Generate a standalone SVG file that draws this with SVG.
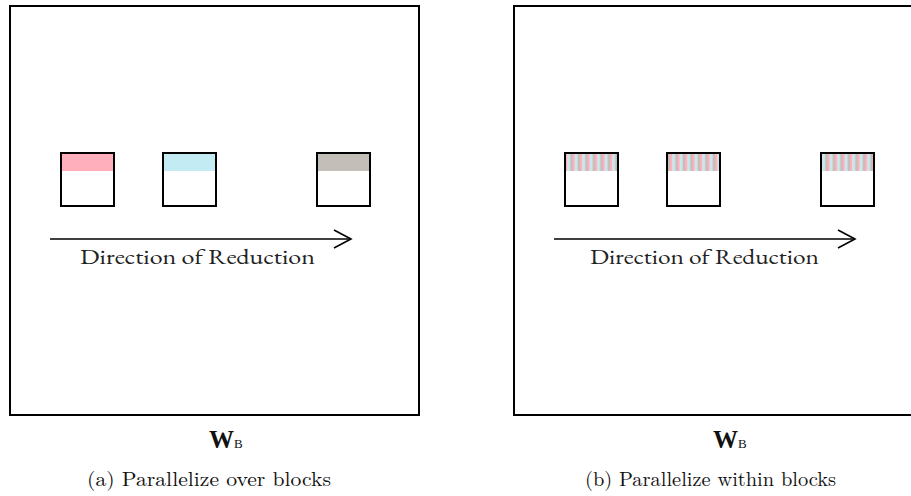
<svg xmlns="http://www.w3.org/2000/svg" width="911" height="496" viewBox="0 0 911 496">
<style>
.frame{fill:none;stroke:#000;stroke-width:2}
.box{fill:none;stroke:#000;stroke-width:2}
.arrow{fill:none;stroke:#000;stroke-width:1.6}
.lbl{font-family:"EB Garamond","Liberation Serif",serif;font-size:21px;fill:#222}
.cap{font-family:"Latin Modern Roman","Liberation Serif",serif;font-size:20px;fill:#111}
.w{font-family:"Liberation Serif",serif;font-weight:bold;fill:#111}
</style>
<defs>
<pattern id="stripes" x="565" y="0" width="7.5" height="20" patternUnits="userSpaceOnUse">
<rect x="0" y="0" width="2.5" height="20" fill="#ffaebb"/>
<rect x="2.5" y="0" width="2.5" height="20" fill="#c3ebf3"/>
<rect x="5" y="0" width="2.5" height="20" fill="#c3bfb8"/>
</pattern>
<marker id="head" markerWidth="20" markerHeight="20" refX="18" refY="10" orient="auto" markerUnits="userSpaceOnUse">
<path d="M1,1 L18,10 L1,19" fill="none" stroke="#000" stroke-width="1.6"/>
</marker>
</defs>
<g id="panelA">
<rect class="frame" x="10" y="6" width="409" height="409"/>
<g id="a-block1"><rect x="61" y="153" width="53" height="18" fill="#ffaebb"/><rect class="box" x="61" y="153" width="53" height="53"/></g>
<g id="a-block2"><rect x="163" y="153" width="53" height="18" fill="#c3ebf3"/><rect class="box" x="163" y="153" width="53" height="53"/></g>
<g id="a-block3"><rect x="317" y="153" width="53" height="18" fill="#c3bfb8"/><rect class="box" x="317" y="153" width="53" height="53"/></g>
<text class="lbl" x="80" y="264" textLength="235" lengthAdjust="spacingAndGlyphs">Direction of Reduction</text>
<text class="w" x="209" y="448" font-size="25">W<tspan font-size="13" font-weight="normal">B</tspan></text>
<text class="cap" x="87" y="486" textLength="244" lengthAdjust="spacingAndGlyphs">(a) Parallelize over blocks</text>
</g>
<g id="panelB">
<rect class="frame" x="514" y="6" width="409" height="409"/>
<g id="b-block1"><rect x="565" y="153" width="53" height="18" fill="url(#stripes)"/><rect class="box" x="565" y="153" width="53" height="53"/></g>
<g id="b-block2"><rect x="667" y="153" width="53" height="18" fill="url(#stripes)"/><rect class="box" x="667" y="153" width="53" height="53"/></g>
<g id="b-block3"><rect x="821" y="153" width="53" height="18" fill="url(#stripes)"/><rect class="box" x="821" y="153" width="53" height="53"/></g>
<text class="lbl" x="590" y="264" textLength="229" lengthAdjust="spacingAndGlyphs">Direction of Reduction</text>
<text class="w" x="713" y="448" font-size="25">W<tspan font-size="13" font-weight="normal">B</tspan></text>
<text class="cap" x="585" y="486" textLength="251" lengthAdjust="spacingAndGlyphs">(b) Parallelize within blocks</text>
</g>
<g id="connectors">
<line class="arrow" x1="50" y1="239" x2="351" y2="239" marker-end="url(#head)"/>
<line class="arrow" x1="554" y1="239" x2="855" y2="239" marker-end="url(#head)"/>
</g>
</svg>
